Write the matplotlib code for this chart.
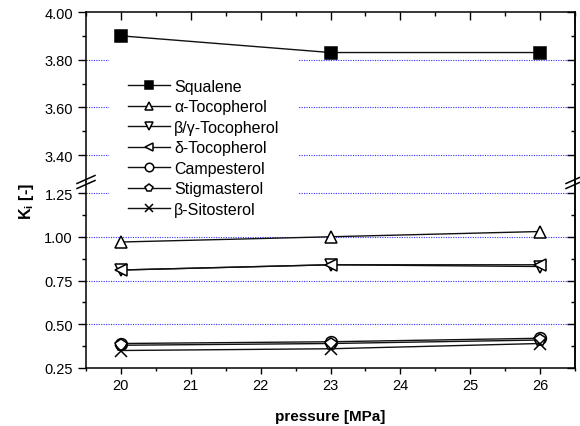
import matplotlib
matplotlib.use("Agg")
import matplotlib.pyplot as plt
from matplotlib.ticker import MultipleLocator, FixedLocator, FormatStrFormatter
from matplotlib.lines import Line2D
from matplotlib.patches import Rectangle

plt.rcParams['font.family'] = ['Liberation Sans', 'DejaVu Sans']
plt.rcParams['mathtext.fontset'] = 'custom'
plt.rcParams['mathtext.rm'] = 'Liberation Sans:bold'
plt.rcParams['mathtext.it'] = 'Liberation Sans:bold'

pressure = [20, 23, 26]
names = ["Squalene", "α-Tocopherol", "β/γ-Tocopherol", "δ-Tocopherol",
         "Campesterol", "Stigmasterol", "β-Sitosterol"]
squalene = [3.90, 3.83, 3.83]
a_toco = [0.97, 1.00, 1.03]
bg_toco = [0.81, 0.84, 0.83]
d_toco = [0.81, 0.84, 0.84]
campesterol = [0.39, 0.40, 0.42]
stigmasterol = [0.38, 0.39, 0.41]
sitosterol = [0.35, 0.36, 0.39]
series = [squalene, a_toco, bg_toco, d_toco, campesterol, stigmasterol, sitosterol]
markers = ['s', '^', 'v', '<', 'o', 'p', 'x']
xticks = [20, 21, 22, 23, 24, 25, 26]

W, H = 580, 427
fig = plt.figure(figsize=(W / 100, H / 100), dpi=100)
left, right = 86 / W, 575 / W
bot, top, brk = 1 - 369 / H, 1 - 13 / H, 1 - 183 / H
ax_up = fig.add_axes([left, brk, right - left, top - brk])
ax_lo = fig.add_axes([left, bot, right - left, brk - bot])

grid_kw = dict(color='#3030ff', linestyle=(0, (1, 1.2)), lw=0.8, zorder=0)
for ax in (ax_up, ax_lo):
    handles = []
    for name, vals, m in zip(names, series, markers):
        mfc = 'black' if m == 's' else 'white'
        h, = ax.plot(pressure, vals, color='#111111', lw=1.0, marker=m,
                     markersize=8.5, mfc=mfc, mec='black', mew=1.1,
                     label=name, zorder=3)
        handles.append(h)
    ax.set_xlim(19.5, 26.5)
    ax.xaxis.set_major_locator(FixedLocator(xticks))
    ax.xaxis.set_minor_locator(MultipleLocator(0.5))
    for s in ax.spines.values():
        s.set_linewidth(1.1)

ax_up.set_ylim(3.287, 4.0)
ax_up.yaxis.set_major_locator(FixedLocator([3.4, 3.6, 3.8, 4.0]))
ax_up.yaxis.set_minor_locator(FixedLocator([3.5, 3.7, 3.9]))
for y in [3.4, 3.6, 3.8]:
    ax_up.axhline(y, **grid_kw)
ax_lo.set_ylim(0.25, 1.313)
ax_lo.yaxis.set_major_locator(FixedLocator([0.25, 0.5, 0.75, 1.0, 1.25]))
ax_lo.yaxis.set_minor_locator(FixedLocator([0.375, 0.625, 0.875, 1.125]))
for y in [0.5, 0.75, 1.0, 1.25]:
    ax_lo.axhline(y, **grid_kw)

for ax in (ax_up, ax_lo):
    ax.yaxis.set_major_formatter(FormatStrFormatter('%.2f'))
    ax.tick_params(axis='y', which='major', direction='out', length=6,
                   width=1, labelsize=10.5, right=False)
    ax.tick_params(axis='y', which='minor', direction='out', length=3,
                   width=1, right=False)
    sec = ax.secondary_yaxis('right')
    sec.yaxis.set_major_locator(FixedLocator(ax.get_yticks()))
    sec.yaxis.set_minor_locator(FixedLocator(ax.yaxis.get_minorticklocs()))
    sec.tick_params(which='major', direction='in', length=6, width=1, labelright=False)
    sec.tick_params(which='minor', direction='in', length=3, width=1, labelright=False)
    sec.spines['right'].set_linewidth(1.1)

ax_up.spines['bottom'].set_visible(False)
ax_lo.spines['top'].set_visible(False)
ax_up.tick_params(axis='x', which='major', bottom=False, top=True, direction='in',
                  length=6, width=1, labelbottom=False)
ax_up.tick_params(axis='x', which='minor', bottom=False, top=True, direction='in',
                  length=3, width=1)
ax_lo.tick_params(axis='x', which='major', bottom=True, top=False, direction='out',
                  length=4, width=1, labelsize=10.5)
ax_lo.tick_params(axis='x', which='minor', bottom=True, top=False, direction='out',
                  length=2.5, width=1)

ax_lo.set_xlabel('pressure [MPa]', fontsize=11, fontweight='bold', labelpad=12)
fig.text(26 / W, 1 - 202 / H, r'K$_\mathrm{i}$ [-]', rotation=90, fontsize=11.5,
         fontweight='bold', ha='center', va='center')

# break marks
for xp in (86, 575):
    for dy in (-2.5, 2.5):
        y0 = 183 + dy
        fig.add_artist(Line2D([(xp - 9) / W, (xp + 9) / W],
                              [1 - (y0 + 4) / H, 1 - (y0 - 4) / H],
                              transform=fig.transFigure, color='black', lw=1.1))

# white legend background hiding the grid
fig.add_artist(Rectangle((109 / W, 1 - 222 / H), (298 - 109) / W, (222 - 54) / H,
                         transform=fig.transFigure, facecolor='white',
                         edgecolor='none', zorder=8))

leg = fig.legend(handles=handles, loc='upper left',
                 bbox_to_anchor=(128 / W, 1 - 80 / H), fontsize=11.5,
                 frameon=False, borderpad=0, borderaxespad=0, handlelength=2.6,
                 handletextpad=0.3, labelspacing=0.34, markerscale=0.72)
leg.set_zorder(10)

fig.savefig('out.png', dpi=100)
